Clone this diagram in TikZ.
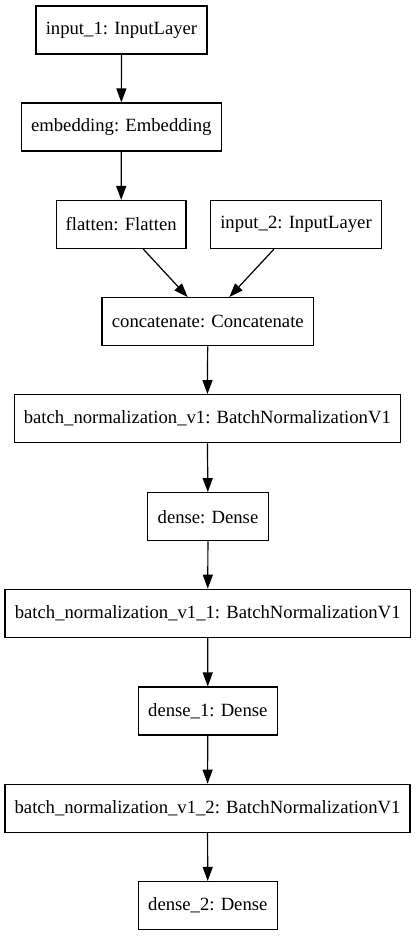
\documentclass[tikz,border=0pt]{standalone}
\usepackage{fontspec}
\setmainfont{Liberation Serif}
\usetikzlibrary{arrows.meta}
\begin{document}
\begin{tikzpicture}[x=1pt,y=-1pt,
  layer/.style={draw=black,line width=1.2pt,rectangle,minimum height=48pt,inner sep=0pt,
    font=\fontsize{18.67}{22}\selectfont,align=center},
  flow/.style={draw=black,line width=1.2pt,-{Triangle[length=14pt,width=10pt]}}]
\useasboundingbox (0,0) rectangle (416,936);
\node[layer,minimum width=171pt] (in1) at (121.5,30) {input\_1: InputLayer};
\node[layer,minimum width=200pt] (emb) at (121.3,127) {embedding: Embedding};
\node[layer,minimum width=129.7pt] (flat) at (121.2,224.5) {flatten: Flatten};
\node[layer,minimum width=171.4pt] (in2) at (296,224.5) {input\_2: InputLayer};
\node[layer,minimum width=211.7pt] (cat) at (207.8,321.7) {concatenate: Concatenate};
\node[layer,minimum width=386pt] (bn0) at (207.3,418.7) {batch\_normalization\_v1: BatchNormalizationV1};
\node[layer,minimum width=120.6pt] (d0) at (208,516.7) {dense: Dense};
\node[layer,minimum width=405.3pt] (bn1) at (207.7,613.3) {batch\_normalization\_v1\_1: BatchNormalizationV1};
\node[layer,minimum width=139pt] (d1) at (207.8,711) {dense\_1: Dense};
\node[layer,minimum width=405pt] (bn2) at (207.5,808.3) {batch\_normalization\_v1\_2: BatchNormalizationV1};
\node[layer,minimum width=139pt] (d2) at (207.8,905.5) {dense\_2: Dense};
\draw[flow] (in1) -- (emb);
\draw[flow] (emb.south) -- (flat.north);
\draw[flow] ([xshift=22.1pt]flat.south) -- ([xshift=-20.1pt]cat.north);
\draw[flow] ([xshift=-22pt]in2.south) -- ([xshift=21.5pt]cat.north);
\draw[flow] (cat) -- (bn0);
\draw[flow] (bn0) -- (d0);
\draw[flow] (d0) -- (bn1);
\draw[flow] (bn1) -- (d1);
\draw[flow] (d1) -- (bn2);
\draw[flow] (bn2) -- (d2);
\end{tikzpicture}
\end{document}
